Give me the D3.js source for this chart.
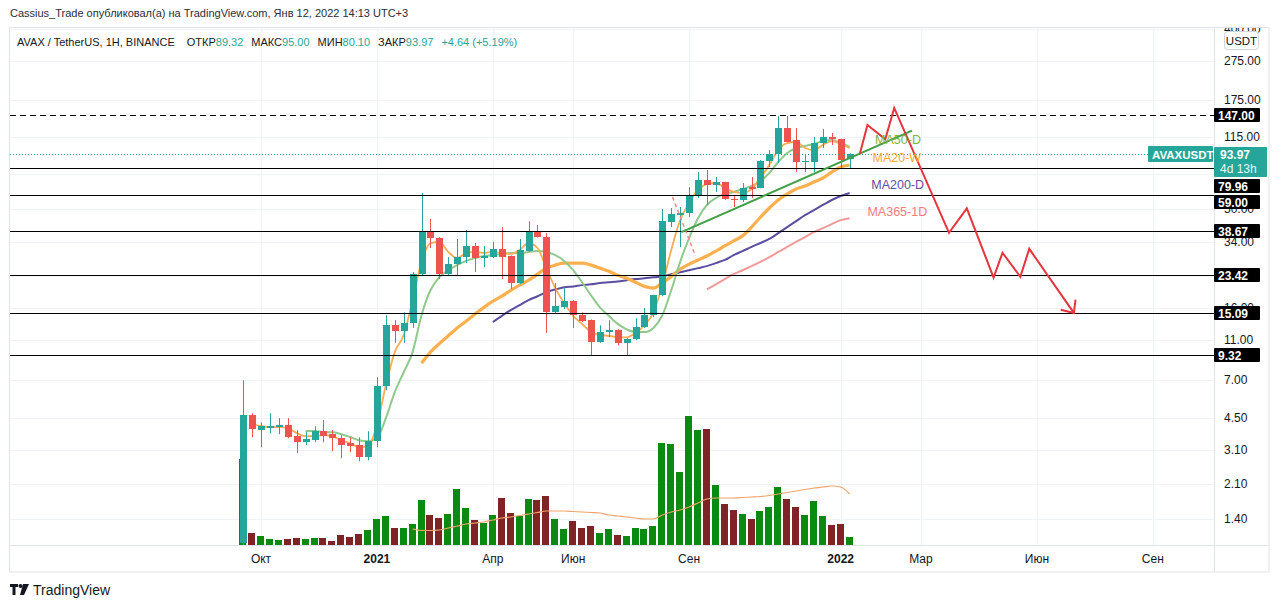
<!DOCTYPE html>
<html>
<head>
<meta charset="utf-8">
<script src="https://cdn.jsdelivr.net/npm/d3@7"></script>
<style>
  body { margin: 0; background: #fff; }
  svg { display: block; font-family: "Liberation Sans", Arial, sans-serif; }
</style>
</head>
<body>
<div id="chart"></div>
<script>
const W = 1280, H = 608;
const PANE = { left: 10, right: 1214, top: 28, bottom: 545, axisRight: 1269, timeBottom: 572 };

// --- weekly candles AVAX/USDT ---
const firstWeek = "2020-09-21";
const opens = [1.06, 4.64, 3.91, 4.00, 4.04, 4.14, 3.65, 3.40, 3.48, 3.86,
  3.73, 3.56, 3.36, 3.29, 2.86, 3.44, 6.49, 13.1, 12.2, 13.4,
  23.6, 38.8, 35.8, 23.6, 26.5, 28.7, 32.6, 28.4, 28.7, 31.5,
  29.1, 21.3, 30.8, 38.8, 36.2, 15.2, 16.1, 17.3, 14.7, 13.9,
  10.8, 12.1, 12.4, 10.7, 11.2, 12.8, 14.7, 18.5, 43.0, 46.7,
  47.7, 58.1, 69.9, 65.9, 68.3, 56.1, 55.5, 64.4, 63.7, 87.0,
  94.3, 127.3, 110.8, 86.0, 86.0, 107.0, 114.7, 112.1, 89.32];
const highs = [6.95, 4.75, 4.28, 4.75, 4.49, 4.49, 3.91, 3.82, 4.09, 4.39,
  3.91, 3.69, 3.60, 3.60, 3.86, 7.20, 14.7, 13.9, 15.2, 24.2,
  60.1, 44.6, 36.2, 28.7, 35.4, 39.2, 33.8, 32.6, 34.2, 40.6,
  29.3, 35.4, 43.5, 41.6, 37.9, 21.3, 20.3, 17.5, 15.2, 14.0,
  13.1, 13.9, 12.5, 11.3, 14.2, 16.0, 18.6, 50.0, 50.6, 51.2,
  64.4, 76.6, 78.4, 72.3, 68.5, 58.8, 67.5, 72.3, 88.0, 98.7,
  146.1, 146.1, 127.3, 93.2, 114.7, 125.8, 120.1, 112.5, 95.0];
const lows = [1.04, 3.60, 3.21, 3.77, 3.73, 3.56, 3.00, 3.29, 3.40, 3.40,
  3.07, 2.83, 3.03, 2.73, 2.76, 3.21, 6.20, 10.7, 10.7, 12.7,
  23.2, 31.9, 22.3, 23.3, 23.3, 26.8, 24.2, 25.6, 28.4, 22.3,
  19.9, 21.0, 30.5, 36.0, 12.0, 15.0, 15.8, 12.7, 13.6, 9.28,
  10.7, 11.4, 10.4, 9.28, 11.0, 12.7, 14.4, 18.3, 40.6, 32.2,
  45.6, 56.7, 52.4, 60.8, 55.5, 51.2, 54.2, 56.7, 63.5, 81.1,
  85.0, 108.0, 76.6, 76.6, 76.6, 101.0, 104.6, 80.2, 80.1];
const closes = [4.64, 3.95, 4.09, 4.09, 4.14, 3.60, 3.40, 3.52, 3.86, 3.65,
  3.56, 3.29, 3.25, 2.86, 3.44, 6.49, 13.1, 12.2, 13.4, 23.6,
  38.8, 35.8, 23.6, 26.5, 28.7, 32.6, 28.4, 29.1, 31.5, 28.7,
  21.3, 31.2, 38.8, 36.2, 15.2, 16.3, 17.3, 14.7, 13.7, 10.8,
  12.1, 12.4, 10.7, 11.2, 12.8, 14.7, 18.5, 43.5, 47.2, 47.7,
  58.1, 69.9, 65.9, 68.3, 56.1, 55.5, 63.7, 62.9, 87.0, 94.3,
  127.3, 108.3, 86.0, 87.0, 107.0, 114.7, 112.1, 88.0, 93.97];
const volumes = [86, 12, 9, 6, 5, 6, 7, 6, 7, 7,
  4, 10, 8, 11, 15, 26, 29, 17, 17, 21,
  45, 30, 27, 31, 56, 37, 25, 22, 30, 47,
  32, 29, 46, 45, 49, 26, 16, 24, 17, 19,
  12, 16, 10, 9, 17, 16, 19, 102, 101, 73,
  129, 115, 116, 60, 41, 35, 31, 26, 34, 38,
  58, 46, 38, 30, 44, 29, 20, 21, 8];

// moving averages, each with the index of its first bar
const maFastStart = 1;
const maFast = [4.19, 4.10, 4.05, 4.05, 4.00, 3.78, 3.65, 3.65, 3.69, 3.65,
  3.48, 3.36, 3.21, 3.25, 4.14, 6.56, 9.61, 11.7, 17.5, 27.2,
  33.8, 34.2, 30.5, 28.4, 30.1, 30.5, 30.1, 30.5, 30.1, 29.8,
  31.2, 33.8, 31.9, 25.3, 20.1, 16.9, 14.6, 13.3, 12.1, 11.7,
  11.6, 11.4, 11.4, 12.0, 13.1, 15.2, 20.8, 31.2, 44.0, 53.6,
  62.3, 66.7, 67.5, 63.8, 60.9, 60.2, 63.0, 71.5, 83.1, 98.7,
  107.0, 108.3, 101.0, 98.7, 104.6, 109.5, 105.8, 101.0];
const ma50dStart = 7;
const ma50d = [3.87, 3.87, 3.82, 3.82,
  3.73, 3.61, 3.48, 3.44, 3.56, 4.49, 6.06, 7.62, 9.61, 14.7,
  19.6, 22.8, 24.7, 26.2, 27.5, 28.4, 29.1, 29.4, 29.8, 30.1,
  30.1, 30.5, 30.8, 30.5, 29.4, 27.5, 24.7, 21.5, 18.5, 16.1,
  14.6, 13.3, 12.5, 12.1, 12.1, 12.7, 14.7, 19.6, 27.2, 35.8,
  45.0, 52.4, 56.8, 59.5, 60.9, 63.0, 65.2, 69.1, 75.7, 86.0,
  95.3, 101.0, 103.4, 105.8, 109.5, 110.8, 107.0, 102.2];
const ma20wStart = 20;
const ma20w = [8.46, 9.61, 10.6, 11.6, 12.7, 13.7, 14.9, 16.1, 17.3, 18.3,
  19.6, 20.8, 22.0, 23.6, 25.3, 26.2, 26.8, 26.8, 26.8, 26.2,
  25.3, 24.4, 23.3, 22.5, 21.5, 20.5, 20.1, 21.3, 23.0, 25.0,
  26.5, 27.8, 29.1, 30.8, 32.7, 34.6, 36.7, 40.6, 45.5, 50.6,
  55.5, 59.5, 63.0, 65.2, 68.3, 71.5, 76.6, 81.2, 83.1];
const ma200dStart = 28;
const ma200d = [13.6, 14.6, 15.6, 16.5, 17.5, 18.3, 19.2, 19.8, 20.3, 20.5,
  20.8, 21.0, 21.3, 21.5, 21.7, 22.0, 22.3, 22.5, 22.8, 23.0,
  23.6, 24.1, 24.7, 25.3, 25.9, 26.8, 27.8, 29.4, 30.8, 32.3,
  33.8, 35.4, 37.9, 40.6, 43.5, 46.6, 49.4, 52.4, 55.5, 58.1, 60.2];
const ma365dStart = 52;
const ma365d = [19.8, 21.0, 22.3, 23.6, 24.7, 25.9, 27.2, 28.7, 30.5, 32.3,
  34.2, 36.2, 38.3, 40.1, 42.0, 44.0, 45.0];
const volMaStart = 19;
const volMa = [16, 14.5, 14.5, 15, 17, 19, 21, 22, 23, 25,
  27, 28, 29.5, 31, 32.5, 34, 34, 34, 33.5, 33,
  32.5, 32, 30, 29, 28, 27, 26, 26, 30, 33,
  35, 38, 42, 46, 47, 47, 47, 47.5, 48, 48.5,
  49.5, 51, 52.5, 54, 55.5, 57, 58, 59, 58, 51];

// drawings
const levels = [147, 79.96, 59.00, 38.67, 23.42, 15.09, 9.32];
const levelDashed = [true, false, false, false, false, false, false];
const lastPrice = 93.97;
const trendDates = ["2021-08-31", "2022-02-28"];
const trendPrices = [38.3, 123.4];
const dashDates = ["2021-08-24", "2021-09-11"];
const dashPrices = [57.5, 29.1];
const projDates = ["2022-01-18", "2022-01-24", "2022-02-07", "2022-02-14", "2022-03-29", "2022-04-12",
  "2022-05-03", "2022-05-10", "2022-05-24", "2022-05-31", "2022-07-05"];
const projPrices = [94.3, 131.8, 111.7, 160.3, 38.0, 50.4, 22.7, 30.2, 22.9, 31.6, 15.1];
const maLabels = ["MA50-D", "MA20-W", "MA200-D", "MA365-1D"];
const maLabelDates = ["2022-01-30", "2022-01-28", "2022-01-27", "2022-01-24"];
const maLabelPrices = [110.8, 90.0, 65.9, 48.3];
const maLabelColors = ["#7cb342", "#ffa726", "#5b4ea0", "#f07b80"];

// axes
const priceTicks = [400, 275, 175, 115, 75, 50, 34, 23, 16, 11, 7, 4.5, 3.1, 2.1, 1.4];
const timeTickDates = ["2020-10-05", "2021-01-04", "2021-04-05", "2021-06-07", "2021-09-06",
  "2022-01-03", "2022-03-07", "2022-06-06", "2022-09-05"];
const timeTickLabels = ["Окт", "2021", "Апр", "Июн", "Сен", "2022", "Мар", "Июн", "Сен"];

const TEAL = "#26a69a", RED = "#ef5350";
const VOL_UP = "#0b8a12", VOL_DOWN = "#7f2326";
const TXT = "#131722";

const parse = d3.utcParse("%Y-%m-%d");
const t0 = parse(firstWeek);
const candles = opens.map((o, i) => ({
  date: d3.utcDay.offset(t0, 7 * i),
  o, h: highs[i], l: lows[i], c: closes[i], v: volumes[i]
}));

const x = d3.scaleUtc()
  .domain([parse("2020-03-22"), parse("2022-10-23")])
  .range([PANE.left, PANE.right]);
const y = d3.scaleLog().domain([1.04, 403]).range([PANE.bottom, PANE.top]);
const yVol = d3.scaleLinear().domain([0, d3.max(volumes)]).range([PANE.bottom, 416]);
const fmt = d3.format(".2f");

const svg = d3.select("#chart").append("svg")
  .attr("width", W).attr("height", H)
  .attr("viewBox", `0 0 ${W} ${H}`);

const defs = svg.append("defs");
defs.append("clipPath").attr("id", "plotClip").append("rect")
  .attr("x", PANE.left).attr("y", PANE.top)
  .attr("width", PANE.right - PANE.left).attr("height", PANE.bottom - PANE.top);
defs.append("clipPath").attr("id", "axisClip").append("rect")
  .attr("x", PANE.right).attr("y", PANE.top)
  .attr("width", PANE.axisRight - PANE.right).attr("height", PANE.bottom - PANE.top);
defs.append("marker")
  .attr("id", "arrow").attr("markerUnits", "userSpaceOnUse")
  .attr("viewBox", "-12 -10 14 20").attr("refX", 0).attr("refY", 0)
  .attr("markerWidth", 14).attr("markerHeight", 20).attr("orient", "auto")
  .append("path").attr("d", "M-10,-9L0,0L-10,9")
  .attr("fill", "none").attr("stroke", "#e5353d").attr("stroke-width", 2);

// header
svg.append("text")
  .attr("x", 10).attr("y", 13).attr("dominant-baseline", "central")
  .attr("font-size", 11).attr("fill", "#2a2e39")
  .text("Cassius_Trade опубликовал(а) на TradingView.com, Янв 12, 2022 14:13 UTC+3");

// frame
svg.append("rect")
  .attr("x", 9.5).attr("y", 27.5)
  .attr("width", PANE.axisRight - 9.5).attr("height", PANE.timeBottom - 27.5)
  .attr("fill", "none").attr("stroke", "#e0e3eb");

const plot = svg.append("g").attr("clip-path", "url(#plotClip)");

// grid
plot.append("g").selectAll("line").data(priceTicks).join("line")
  .attr("x1", PANE.left).attr("x2", PANE.right)
  .attr("y1", d => Math.round(y(d)) + 0.5).attr("y2", d => Math.round(y(d)) + 0.5)
  .attr("stroke", "#f0f3fa");
plot.append("g").selectAll("line").data(timeTickDates).join("line")
  .attr("x1", d => Math.round(x(parse(d))) + 0.5).attr("x2", d => Math.round(x(parse(d))) + 0.5)
  .attr("y1", PANE.top).attr("y2", PANE.bottom)
  .attr("stroke", "#f0f3fa");

// volume
plot.append("g").selectAll("rect").data(candles).join("rect")
  .attr("x", d => Math.round(x(d.date)) - 4)
  .attr("width", 7)
  .attr("y", d => yVol(d.v))
  .attr("height", d => PANE.bottom - yVol(d.v))
  .attr("fill", d => d.c >= d.o ? VOL_UP : VOL_DOWN)
  .attr("shape-rendering", "crispEdges");

const volLine = d3.line()
  .x((d, j) => x(candles[volMaStart + j].date))
  .y(d => yVol(d))
  .curve(d3.curveMonotoneX);
plot.append("path").attr("d", volLine(volMa))
  .attr("fill", "none").attr("stroke", "#f2a36b").attr("stroke-width", 1.2);

// moving averages
const maDefs = [
  { values: ma365d, start: ma365dStart, color: "#f29a9a", width: 2 },
  { values: ma200d, start: ma200dStart, color: "#5b4ea0", width: 2 },
  { values: ma20w, start: ma20wStart, color: "#fbb04f", width: 3.2 },
  { values: ma50d, start: ma50dStart, color: "#8fca8c", width: 2 },
  { values: maFast, start: maFastStart, color: "#f7ac55", width: 1.8 }
];
maDefs.forEach(m => {
  const gen = d3.line()
    .x((d, j) => x(candles[m.start + j].date))
    .y(d => y(d))
    .curve(d3.curveMonotoneX);
  plot.append("path").attr("d", gen(m.values))
    .attr("fill", "none").attr("stroke", m.color)
    .attr("stroke-width", m.width).attr("stroke-linejoin", "round");
});

// candles
const cg = plot.append("g").selectAll("g").data(candles).join("g");
cg.append("line")
  .attr("x1", d => Math.round(x(d.date)) + 0.5).attr("x2", d => Math.round(x(d.date)) + 0.5)
  .attr("y1", d => y(d.h)).attr("y2", d => y(d.l))
  .attr("stroke", d => d.c >= d.o ? TEAL : RED);
cg.append("rect")
  .attr("x", d => Math.round(x(d.date)) - 3)
  .attr("width", 7)
  .attr("y", d => y(Math.max(d.o, d.c)))
  .attr("height", d => Math.max(1, Math.abs(y(d.o) - y(d.c))))
  .attr("fill", d => d.c >= d.o ? TEAL : RED)
  .attr("shape-rendering", "crispEdges");

// horizontal levels
plot.append("g").selectAll("line").data(levels).join("line")
  .attr("x1", PANE.left).attr("x2", PANE.right)
  .attr("y1", d => Math.round(y(d)) + 0.5).attr("y2", d => Math.round(y(d)) + 0.5)
  .attr("stroke", "#000").attr("stroke-width", 1)
  .attr("stroke-dasharray", (d, i) => levelDashed[i] ? "6,4" : null);

// last price dotted line
plot.append("line")
  .attr("x1", PANE.left).attr("x2", 1148)
  .attr("y1", Math.round(y(lastPrice)) + 0.5).attr("y2", Math.round(y(lastPrice)) + 0.5)
  .attr("stroke", TEAL).attr("stroke-dasharray", "1,2");

// drawings
const ptLine = d3.line().x(d => x(parse(d[0]))).y(d => y(d[1]));
plot.append("path").attr("d", ptLine(dashDates.map((d, i) => [d, dashPrices[i]])))
  .attr("fill", "none").attr("stroke", "#f08a86").attr("stroke-width", 1.5)
  .attr("stroke-dasharray", "4,3");
plot.append("path").attr("d", ptLine(trendDates.map((d, i) => [d, trendPrices[i]])))
  .attr("fill", "none").attr("stroke", "#43a047").attr("stroke-width", 2);
plot.append("path").attr("d", ptLine(projDates.map((d, i) => [d, projPrices[i]])))
  .attr("fill", "none").attr("stroke", "#e5353d").attr("stroke-width", 2)
  .attr("stroke-linejoin", "miter").attr("marker-end", "url(#arrow)");

plot.append("g").selectAll("text").data(maLabels).join("text")
  .attr("x", (d, i) => x(parse(maLabelDates[i])))
  .attr("y", (d, i) => y(maLabelPrices[i]))
  .attr("dominant-baseline", "central")
  .attr("font-size", 12.5)
  .attr("fill", (d, i) => maLabelColors[i])
  .text(d => d);

// legend
const legend = svg.append("text")
  .attr("x", 17).attr("y", 42).attr("dominant-baseline", "central")
  .attr("font-size", 11).attr("fill", TXT);
legend.append("tspan").text("AVAX / TetherUS, 1H, BINANCE");
const ohlc = [["ОТКР", "89.32"], ["МАКС", "95.00"], ["МИН", "80.10"], ["ЗАКР", "93.97"]];
ohlc.forEach(([k, v], i) => {
  legend.append("tspan").attr("dx", i === 0 ? 12 : 8).text(k);
  legend.append("tspan").attr("fill", TEAL).text(v);
});
legend.append("tspan").attr("dx", 8).attr("fill", TEAL).text("+4.64 (+5.19%)");

// price axis: label boxes laid out top-down, pushed so they never overlap
const BOX_H = 14, LAST_H = 30;
const ly = Math.round(y(lastPrice));
const boxItems = levels.map(v => ({ kind: "level", v, top: Math.round(y(v)) - 7, h: BOX_H }))
  .concat([{ kind: "last", v: lastPrice, top: ly - 7, h: LAST_H }])
  .sort((a, b) => a.top - b.top);
let prevBottom = -Infinity;
boxItems.forEach(b => {
  b.top = Math.max(b.top, prevBottom + 2);
  prevBottom = b.top + b.h;
});

svg.append("line")
  .attr("x1", PANE.right + 0.5).attr("x2", PANE.right + 0.5)
  .attr("y1", PANE.top).attr("y2", PANE.timeBottom)
  .attr("stroke", "#e0e3eb");
const axis = svg.append("g").attr("clip-path", "url(#axisClip)");
// tick labels hidden when a label box sits right on top of them
const visibleTicks = priceTicks.filter(t => {
  const ty = y(t);
  return !boxItems.some(b => ty >= b.top + 3 && ty <= b.top + b.h - 3);
});
axis.selectAll("text.tick").data(visibleTicks).join("text")
  .attr("class", "tick")
  .attr("x", 1224).attr("y", d => y(d))
  .attr("dominant-baseline", "central")
  .attr("font-size", 12).attr("fill", TXT)
  .text(d => fmt(d));

const bx = axis.append("g").selectAll("g").data(boxItems).join("g")
  .attr("transform", d => `translate(${PANE.right},${d.top})`);
bx.append("rect").attr("x", 0).attr("y", 0)
  .attr("width", d => d.kind === "last" ? 53 : 46).attr("height", d => d.h)
  .attr("rx", 1).attr("fill", d => d.kind === "last" ? TEAL : "#000");
bx.append("text").attr("x", d => d.kind === "last" ? 6 : 4).attr("y", 7.5)
  .attr("dominant-baseline", "central")
  .attr("font-size", 12).attr("font-weight", "bold").attr("fill", "#fff")
  .text(d => fmt(d.v));
bx.filter(d => d.kind === "last").append("text")
  .attr("x", 6).attr("y", 22).attr("dominant-baseline", "central")
  .attr("font-size", 12).attr("fill", "#e8f6f4")
  .text("4d 13h");

const sym = svg.append("g").attr("transform", `translate(1148,${ly})`);
sym.append("rect").attr("x", 0).attr("y", -8).attr("width", 65).attr("height", 16)
  .attr("rx", 1).attr("fill", TEAL);
sym.append("text").attr("x", 4).attr("y", 0.5).attr("dominant-baseline", "central")
  .attr("font-size", 11.5).attr("font-weight", "bold").attr("fill", "#fff")
  .text("AVAXUSDT");

// currency badge
svg.append("rect").attr("x", 1224.5).attr("y", 31.5).attr("width", 34).attr("height", 18)
  .attr("rx", 3).attr("fill", "#fff").attr("stroke", "#d1d4dc");
svg.append("text").attr("x", 1241.5).attr("y", 41).attr("text-anchor", "middle")
  .attr("dominant-baseline", "central").attr("font-size", 11.5).attr("fill", TXT)
  .text("USDT");

// time axis
svg.append("line")
  .attr("x1", PANE.left).attr("x2", PANE.axisRight)
  .attr("y1", PANE.bottom + 0.5).attr("y2", PANE.bottom + 0.5)
  .attr("stroke", "#e0e3eb");
svg.append("g").selectAll("text").data(timeTickDates).join("text")
  .attr("x", d => x(parse(d)))
  .attr("y", 559)
  .attr("text-anchor", "middle").attr("dominant-baseline", "central")
  .attr("font-size", 12).attr("fill", TXT)
  .attr("font-weight", (d, i) => /^\d{4}$/.test(timeTickLabels[i]) ? "bold" : null)
  .text((d, i) => timeTickLabels[i]);

// footer logo
const logo = svg.append("g").attr("transform", "translate(10,584)").attr("fill", TXT);
logo.append("path").attr("d", "M0,0H8V3H5.5V11H2.5V3H0Z");
logo.append("circle").attr("cx", 10.5).attr("cy", 2).attr("r", 2);
logo.append("path").attr("d", "M13,0H19L14,11H10Z");
svg.append("text").attr("x", 33).attr("y", 590).attr("dominant-baseline", "central")
  .attr("font-size", 14).attr("fill", TXT).text("TradingView");
</script>
</body>
</html>
